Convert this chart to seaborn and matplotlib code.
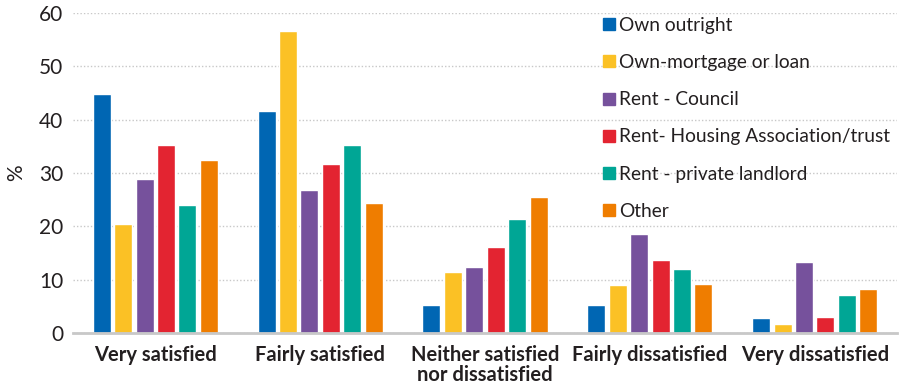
import matplotlib
matplotlib.use("Agg")
import matplotlib.pyplot as plt
import seaborn as sns
import pandas as pd
from matplotlib.lines import Line2D

categories = ["Very satisfied", "Fairly satisfied", "Neither satisfied\nnor dissatisfied",
              "Fairly dissatisfied", "Very dissatisfied"]
series = ["Own outright", "Own-mortgage or loan", "Rent - Council",
          "Rent- Housing Association/trust", "Rent - private landlord", "Other"]
own_outright = [44.8, 41.6, 5.2, 5.2, 2.7]
own_mortgage = [20.5, 56.5, 11.5, 9.0, 1.7]
rent_council = [28.8, 26.7, 12.4, 18.5, 13.2]
rent_ha = [35.3, 31.6, 16.1, 13.6, 2.9]
rent_private = [23.9, 35.3, 21.3, 12.0, 7.1]
other = [32.4, 24.3, 25.5, 9.1, 8.3]
colors = ["#0066B3", "#FBC125", "#76519C", "#E32431", "#00A695", "#EF7D00"]

values = [own_outright, own_mortgage, rent_council, rent_ha, rent_private, other]
rows = []
for s, vals in zip(series, values):
    for c, v in zip(categories, vals):
        rows.append({"category": c, "series": s, "value": v})
df = pd.DataFrame(rows)

sns.set_style("white")
plt.rcParams["font.family"] = ["Lato", "DejaVu Sans"]
text_color = "#231f20"

fig = plt.figure(figsize=(8.99, 3.88), dpi=100)
ax = fig.add_axes([0.081, 0.142, 0.917, 0.825])

sns.barplot(data=df, x="category", y="value", hue="series", order=categories,
            hue_order=series, palette=colors, width=0.78, gap=0.16,
            saturation=1, ax=ax, legend=False)

ax.set_xlim(-0.5, 4.5)
ax.set_ylim(0, 60)
ax.set_yticks(range(0, 61, 10))
ax.yaxis.grid(True, linestyle=(0, (1, 1.5)), color="#c8c8c8", linewidth=1.0)
ax.set_axisbelow(True)
for side in ["top", "right", "left"]:
    ax.spines[side].set_visible(False)
ax.spines["bottom"].set_color("#c8c8c8")
ax.spines["bottom"].set_linewidth(2)
ax.tick_params(axis="both", length=0, colors=text_color)
ax.tick_params(axis="y", labelsize=15, pad=7)
ax.tick_params(axis="x", labelsize=14.5, pad=9)
for lab in ax.get_xticklabels():
    lab.set_fontweight("bold")
    lab.set_linespacing(0.95)
ax.set_xlabel("")
ax.set_ylabel("%", fontsize=15, color=text_color, labelpad=9)

handles = [Line2D([0], [0], marker="s", linestyle="", markersize=8.5,
                  markerfacecolor=c, markeredgecolor=c) for c in colors]
leg = fig.legend(handles, series, loc="upper left", bbox_to_anchor=(0.669, 0.956),
                 frameon=False, fontsize=13.8, handletextpad=0.1,
                 labelspacing=1.05, handlelength=0.8, borderaxespad=0.0,
                 borderpad=0.0)
for t in leg.get_texts():
    t.set_color(text_color)

fig.savefig("out.png", dpi=100)
